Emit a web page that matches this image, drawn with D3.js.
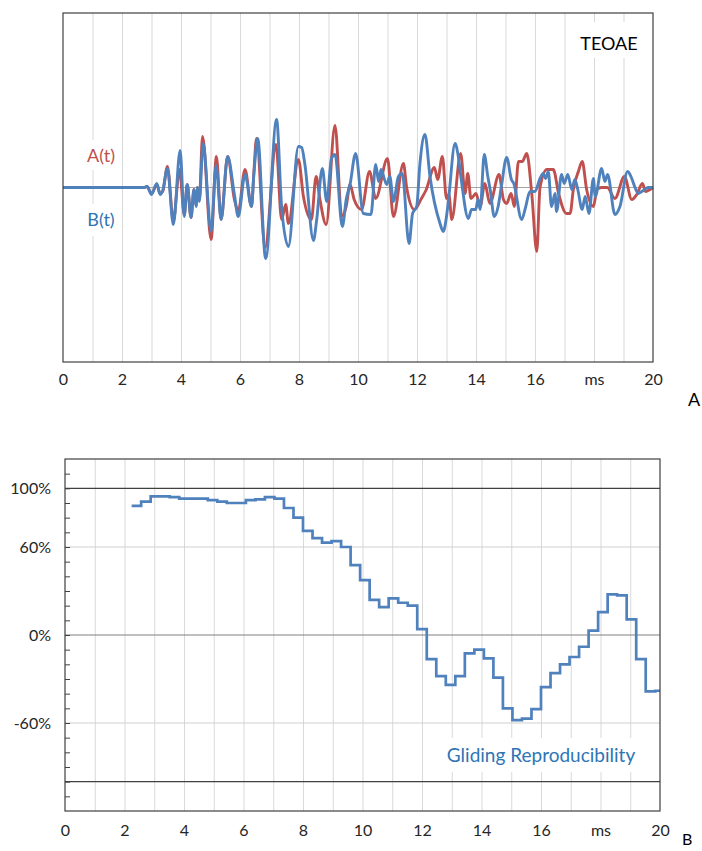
<!DOCTYPE html>
<html>
<head>
<meta charset="utf-8">
<script src="https://cdn.jsdelivr.net/npm/d3@7"></script>
<style>
  body { margin: 0; background: #fff; }
  svg text { font-family: Lato, "Open Sans", sans-serif; }
</style>
</head>
<body>
<div id="chart"></div>
<script>
// time axis (ms)
var xTicks = [0, 2, 4, 6, 8, 10, 12, 14, 16, 18, 20];
var xTickText = ["0", "2", "4", "6", "8", "10", "12", "14", "16", "ms", "20"];

// TEOAE waveforms, arbitrary units (turning points)
var tA = [0, 2.75, 2.85, 3.0, 3.18, 3.29, 3.38, 3.54, 3.74, 3.95, 4.11, 4.21, 4.34, 4.44, 4.51, 4.56, 4.62, 4.73, 5.02, 5.2, 5.36, 5.58, 5.81, 5.94, 6.17, 6.39, 6.47, 6.56, 6.85, 7.22, 7.41, 7.55, 7.64, 7.98, 8.15, 8.42, 8.58, 8.71, 8.92, 9.22, 9.45, 9.6, 9.73, 9.87, 10.12, 10.39, 10.6, 11.0, 11.2, 11.54, 11.65, 11.91, 12.15, 12.3, 12.59, 12.7, 12.86, 13.0, 13.08, 13.18, 13.48, 13.63, 13.72, 13.83, 14.0, 14.14, 14.3, 14.47, 14.78, 14.93, 15.04, 15.19, 15.3, 15.44, 15.57, 15.72, 15.89, 16.06, 16.17, 16.4, 16.62, 16.8, 17.07, 17.19, 17.3, 17.47, 17.6, 17.75, 17.98, 18.1, 18.25, 18.45, 18.71, 19.03, 19.28, 19.45, 19.64, 19.75, 19.9, 20];
var vA = [0, 0, 1, -6, 3, -6, -4, 21, -33, 18, -27, 3, -30, -2, -18, 0, -13, 51, -52, 31, -32, 31, -12, -24, 18, -19, 15, 49, -60, 43, -32, -17, -36, 28, -9, -32, 11, -12, -37, 62, -29, -19, 3, -12, -22, 16, -11, 29, -29, 24, 0, -22, -11, -3, 20, 8, 31, -11, -7, -32, 34, -6, 14, -11, -6, -19, 4, -16, 13, -12, -16, -6, -19, 26, 26, 34, -6, -64, 0, 18, 18, -6, -26, -26, -2, 16, 26, -2, -19, -2, 0, 0, -11, 11, -12, -7, 4, -4, -2, 0];

var tB = [0, 2.75, 2.85, 3.0, 3.18, 3.29, 3.38, 3.54, 3.74, 3.97, 4.11, 4.21, 4.34, 4.44, 4.51, 4.56, 4.62, 4.75, 5.02, 5.19, 5.36, 5.58, 5.81, 5.94, 6.17, 6.39, 6.47, 6.6, 6.87, 7.24, 7.41, 7.64, 7.98, 8.09, 8.2, 8.49, 8.6, 8.79, 8.94, 9.1, 9.22, 9.47, 9.6, 9.73, 9.92, 10.18, 10.44, 10.6, 10.7, 10.78, 10.97, 11.08, 11.2, 11.37, 11.5, 11.73, 11.85, 11.99, 12.1, 12.27, 12.44, 12.78, 12.89, 13.0, 13.07, 13.29, 13.4, 13.5, 13.74, 13.85, 13.99, 14.07, 14.14, 14.28, 14.4, 14.48, 14.62, 14.75, 14.86, 15.04, 15.2, 15.28, 15.55, 15.67, 15.83, 16.0, 16.17, 16.28, 16.36, 16.45, 16.56, 16.68, 16.73, 16.9, 16.99, 17.11, 17.25, 17.35, 17.45, 17.6, 17.7, 17.83, 17.98, 18.04, 18.26, 18.37, 18.46, 18.71, 18.88, 19.14, 19.28, 19.39, 19.5, 19.67, 19.84, 20];
var vB = [0, 0, 1, -7, 4, -7, -3, 19, -37, 37, -29, 3, -30, -2, -19, 0, -14, 44, -44, 22, -32, 31, -7, -29, 13, -19, 13, 49, -71, 68, -19, -59, 41, 40, 23, -53, -32, 19, -14, 29, 33, -39, -12, 3, 34, -26, -27, 23, 6, 18, 3, 11, -14, 11, 14, -56, -26, -19, 24, 53, 11, -36, -44, -29, -12, 44, 31, 8, -31, -22, -22, -12, -22, 33, 11, -2, -29, -19, 1, 30, 8, 4, -32, -21, -4, -4, 9, 14, 9, 16, -19, -6, -24, 13, 4, 13, -2, 8, -2, -22, -9, -26, 9, -9, 19, 6, 13, -27, -19, 16, 9, 0, -6, -3, 0, 0];

// gliding reproducibility (%), step values starting at each time
var tRep = [2.24, 2.56, 2.88, 3.2, 3.52, 3.84, 4.16, 4.48, 4.8, 5.12, 5.44, 5.76, 6.08, 6.4, 6.72, 7.04, 7.36, 7.68, 8.0, 8.32, 8.64, 8.96, 9.28, 9.6, 9.92, 10.24, 10.56, 10.88, 11.2, 11.52, 11.84, 12.16, 12.48, 12.8, 13.12, 13.44, 13.76, 14.08, 14.4, 14.72, 15.04, 15.36, 15.68, 16.0, 16.32, 16.64, 16.96, 17.28, 17.6, 17.92, 18.24, 18.56, 18.88, 19.2, 19.52, 19.84, 20];
var vRep = [88, 91, 94.5, 94.5, 94, 93, 93, 93, 92, 91, 90, 90, 92, 92.5, 94, 93, 86.6, 80, 71, 66, 63, 64, 60, 47.6, 37.4, 24, 19, 25, 22, 20, 4, -16.5, -28, -34, -28, -12.5, -10, -16, -29, -50, -58, -57, -50.5, -35.6, -26, -20, -15, -8, 3, 15.6, 27.7, 27, 10.7, -16.5, -38.5, -38, -38];
var repTicks = [100, 60, 0, -60];
var repTickText = ["100%", "60%", "0%", "-60%"];

var red = "#c0504d", blue = "#4f81bd", textBlue = "#2e75b6";

var svg = d3.select("#chart").append("svg")
    .attr("width", 702)
    .attr("height", 851);

// ---------- chart A ----------
var a = { left: 63, right: 653, top: 13, bottom: 362 };
var xA = d3.scaleLinear().domain([0, 20]).range([a.left, a.right]);
var yA = d3.scaleLinear().domain([-174.5, 174.5]).range([a.bottom, a.top]);

var gA = svg.append("g");

// vertical grid every ms
gA.append("g")
    .attr("transform", "translate(0," + a.bottom + ")")
    .call(d3.axisBottom(xA).tickValues(d3.range(1, 20)).tickSize(-(a.bottom - a.top)).tickFormat(""))
    .call(g => g.select(".domain").remove())
    .call(g => g.selectAll(".tick line").attr("stroke", "#d9d9d9"));

// labels with white boxes
function labelBox(g, x, y, w, h) {
    g.append("rect").attr("x", x).attr("y", y).attr("width", w).attr("height", h).attr("fill", "#fff");
}
labelBox(gA, 576, 22, 66, 36);
labelBox(gA, 80, 140, 42, 30);
labelBox(gA, 80, 204, 42, 32);

// zero line
gA.append("line")
    .attr("x1", a.left).attr("x2", a.right)
    .attr("y1", yA(0)).attr("y2", yA(0))
    .attr("stroke", "#a6a6a6").attr("stroke-width", 1.2);

var lineA = d3.line().x(d => xA(d[0])).y(d => yA(d[1])).curve(d3.curveMonotoneX);

gA.append("path")
    .datum(tA.map((t, i) => [t, vA[i]]))
    .attr("d", lineA)
    .attr("fill", "none").attr("stroke", red).attr("stroke-width", 2.9).attr("stroke-linejoin", "round");

gA.append("path")
    .datum(tB.map((t, i) => [t, vB[i]]))
    .attr("d", lineA)
    .attr("fill", "none").attr("stroke", blue).attr("stroke-width", 2.9).attr("stroke-linejoin", "round");

// frame
gA.append("rect")
    .attr("x", a.left).attr("y", a.top)
    .attr("width", a.right - a.left).attr("height", a.bottom - a.top)
    .attr("fill", "none").attr("stroke", "#404040").attr("stroke-width", 1.2);

gA.append("g")
    .attr("transform", "translate(0," + a.bottom + ")")
    .call(d3.axisBottom(xA).tickValues(xTicks).tickSize(0).tickPadding(12)
        .tickFormat((d, i) => xTickText[i]))
    .call(g => g.select(".domain").remove())
    .call(g => g.selectAll(".tick text").attr("font-size", "16px").attr("fill", "#262626"));

gA.append("text").attr("x", 609).attr("y", 50).attr("text-anchor", "middle")
    .attr("font-size", "18px").attr("fill", "#000").text("TEOAE");
gA.append("text").attr("x", 101).attr("y", 162).attr("text-anchor", "middle")
    .attr("font-size", "18px").attr("fill", red).text("A(t)");
gA.append("text").attr("x", 101).attr("y", 226).attr("text-anchor", "middle")
    .attr("font-size", "18px").attr("fill", textBlue).text("B(t)");
svg.append("text").attr("x", 688).attr("y", 406)
    .attr("font-size", "18px").attr("fill", "#000").text("A");

// ---------- chart B ----------
var b = { left: 65, right: 660, top: 459, bottom: 811 };
var xB = d3.scaleLinear().domain([0, 20]).range([b.left, b.right]);
var yB = d3.scaleLinear().domain([-120, 120]).range([b.bottom, b.top]);

var gB = svg.append("g");

gB.append("g")
    .attr("transform", "translate(0," + b.bottom + ")")
    .call(d3.axisBottom(xB).tickValues(d3.range(1, 20)).tickSize(-(b.bottom - b.top)).tickFormat(""))
    .call(g => g.select(".domain").remove())
    .call(g => g.selectAll(".tick line").attr("stroke", "#d9d9d9"));

// horizontal lines
var hLines = [[60, "#d0d0d0"], [-60, "#d0d0d0"], [0, "#808080"], [100, "#404040"], [-100, "#404040"]];
gB.selectAll("line.h")
    .data(hLines)
    .enter()
    .append("line")
    .attr("x1", b.left).attr("x2", b.right)
    .attr("y1", d => yB(d[0])).attr("y2", d => yB(d[0]))
    .attr("stroke", d => d[1]).attr("stroke-width", 1.2);

labelBox(gB, 438, 738, 208, 34);

var stepLine = d3.line().x(d => xB(d[0])).y(d => yB(d[1])).curve(d3.curveStepAfter);
gB.append("path")
    .datum(tRep.map((t, i) => [t, vRep[i]]))
    .attr("d", stepLine)
    .attr("fill", "none").attr("stroke", blue).attr("stroke-width", 2.7);

gB.append("rect")
    .attr("x", b.left).attr("y", b.top)
    .attr("width", b.right - b.left).attr("height", b.bottom - b.top)
    .attr("fill", "none").attr("stroke", "#404040").attr("stroke-width", 1.2);

// minor ticks every 10 %, inside
gB.append("g")
    .attr("transform", "translate(" + b.left + ",0)")
    .call(d3.axisRight(yB).tickValues(d3.range(-110, 111, 10)).tickSize(5).tickFormat(""))
    .call(g => g.select(".domain").remove())
    .call(g => g.selectAll(".tick line").attr("stroke", "#404040"));

gB.append("g")
    .attr("transform", "translate(" + b.left + ",0)")
    .call(d3.axisLeft(yB).tickValues(repTicks).tickSize(0).tickPadding(14)
        .tickFormat((d, i) => repTickText[i]))
    .call(g => g.select(".domain").remove())
    .call(g => g.selectAll(".tick text").attr("font-size", "16px").attr("fill", "#262626"));

gB.append("g")
    .attr("transform", "translate(0," + b.bottom + ")")
    .call(d3.axisBottom(xB).tickValues(xTicks).tickSize(0).tickPadding(14)
        .tickFormat((d, i) => xTickText[i]))
    .call(g => g.select(".domain").remove())
    .call(g => g.selectAll(".tick text").attr("font-size", "16px").attr("fill", "#262626"));

gB.append("text").attr("x", 541).attr("y", 762).attr("text-anchor", "middle")
    .attr("font-size", "19px").attr("fill", textBlue).text("Gliding Reproducibility");
svg.append("text").attr("x", 682).attr("y", 845)
    .attr("font-size", "16px").attr("fill", "#000").text("B");
</script>
</body>
</html>
